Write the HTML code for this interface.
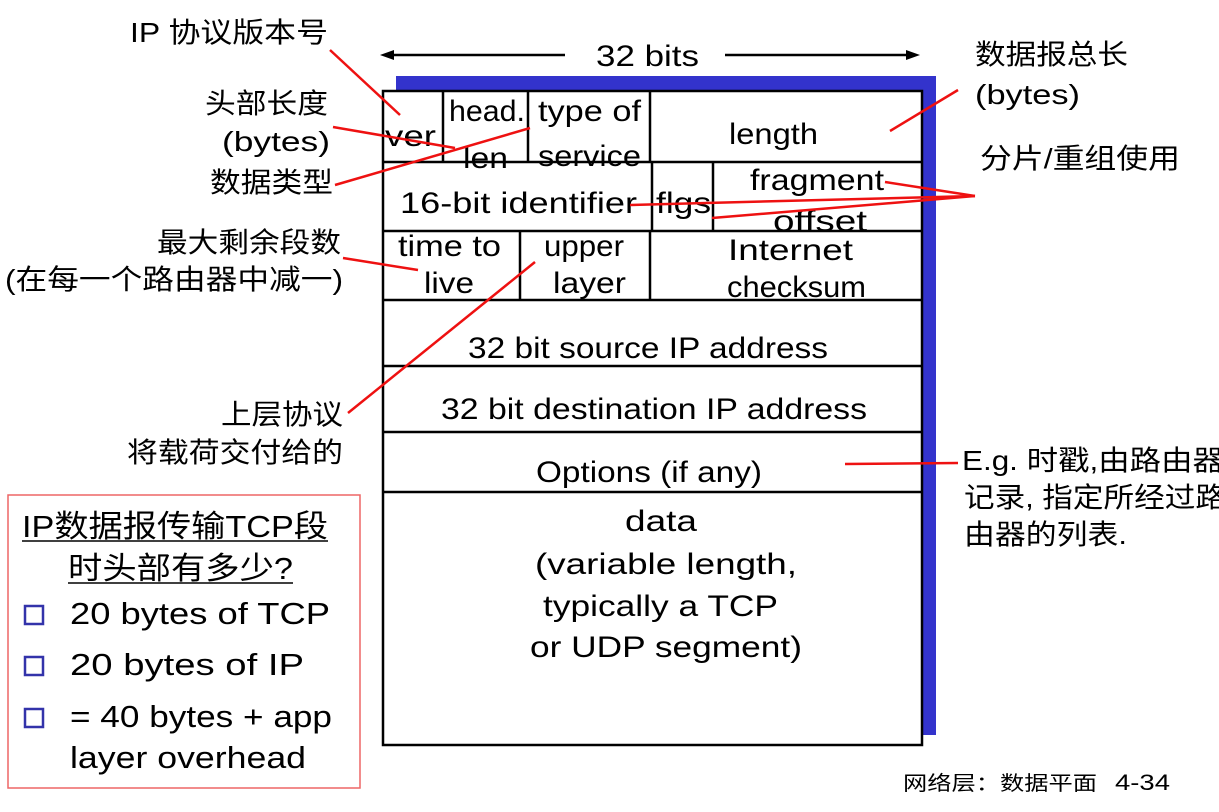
<!DOCTYPE html>
<html><head><meta charset="utf-8"><style>
body{margin:0;background:#fff;}
svg text{font-family:"Liberation Sans","Noto Sans CJK SC",sans-serif;fill:#000;}
</style></head><body>
<svg width="1219" height="807" viewBox="0 0 1219 807" xmlns="http://www.w3.org/2000/svg">
<rect x="396" y="76" width="540" height="659" fill="#3333cc"/>
<rect x="383" y="91" width="539" height="654" fill="#fff" stroke="#000" stroke-width="2.5"/>
<g stroke="#000" stroke-width="2.5">
<line x1="383" y1="162" x2="922" y2="162"/>
<line x1="383" y1="231" x2="922" y2="231"/>
<line x1="383" y1="300" x2="922" y2="300"/>
<line x1="383" y1="366" x2="922" y2="366"/>
<line x1="383" y1="432" x2="922" y2="432"/>
<line x1="383" y1="492" x2="922" y2="492"/>
<line x1="443" y1="91" x2="443" y2="162"/>
<line x1="528" y1="91" x2="528" y2="162"/>
<line x1="650" y1="91" x2="650" y2="162"/>
<line x1="652" y1="162" x2="652" y2="231"/>
<line x1="713" y1="162" x2="713" y2="231"/>
<line x1="520" y1="231" x2="520" y2="300"/>
<line x1="650" y1="231" x2="650" y2="300"/>
</g>
<g font-size="30" lengthAdjust="spacingAndGlyphs">
<text x="385" y="146" textLength="51" lengthAdjust="spacingAndGlyphs">ver</text>
<text x="449" y="121" textLength="76" lengthAdjust="spacingAndGlyphs">head.</text>
<text x="463" y="168" textLength="45" lengthAdjust="spacingAndGlyphs">len</text>
<text x="538" y="121" textLength="103" lengthAdjust="spacingAndGlyphs">type of</text>
<text x="538" y="166" textLength="103" lengthAdjust="spacingAndGlyphs">service</text>
<text x="729" y="144" textLength="89" lengthAdjust="spacingAndGlyphs">length</text>
<text x="400" y="213" textLength="237" lengthAdjust="spacingAndGlyphs">16-bit identifier</text>
<text x="656" y="213" textLength="55" lengthAdjust="spacingAndGlyphs">flgs</text>
<text x="750" y="190" textLength="134" lengthAdjust="spacingAndGlyphs">fragment</text>
<text x="773" y="231" textLength="94" lengthAdjust="spacingAndGlyphs">offset</text>
<text x="398" y="256" textLength="103" lengthAdjust="spacingAndGlyphs">time to</text>
<text x="424" y="293" textLength="50" lengthAdjust="spacingAndGlyphs">live</text>
<text x="544" y="256" textLength="80" lengthAdjust="spacingAndGlyphs">upper</text>
<text x="553" y="293" textLength="73" lengthAdjust="spacingAndGlyphs">layer</text>
<text x="728" y="260" textLength="125" lengthAdjust="spacingAndGlyphs">Internet</text>
<text x="727" y="297" textLength="139" lengthAdjust="spacingAndGlyphs">checksum</text>
<text x="468" y="358" textLength="360" lengthAdjust="spacingAndGlyphs">32 bit source IP address</text>
<text x="441" y="419" textLength="426" lengthAdjust="spacingAndGlyphs">32 bit destination IP address</text>
<text x="536" y="482" textLength="226" lengthAdjust="spacingAndGlyphs">Options (if any)</text>
<text x="625" y="531" textLength="72" lengthAdjust="spacingAndGlyphs">data</text>
<text x="535" y="574" textLength="262" lengthAdjust="spacingAndGlyphs">(variable length,</text>
<text x="543" y="616" textLength="235" lengthAdjust="spacingAndGlyphs">typically a TCP</text>
<text x="530" y="657" textLength="272" lengthAdjust="spacingAndGlyphs">or UDP segment)</text>
<text x="596" y="66" textLength="103" lengthAdjust="spacingAndGlyphs">32 bits</text>
</g>
<g stroke="#000" stroke-width="2.5">
<line x1="385" y1="55" x2="565" y2="55"/>
<line x1="725" y1="55" x2="915" y2="55"/>
</g>
<polygon points="380,55 394,50 394,60" fill="#000"/>
<polygon points="920,55 906,50 906,60" fill="#000"/>
<g font-size="28">
<text x="130" y="42" textLength="198" lengthAdjust="spacingAndGlyphs">IP 协议版本号</text>
<text x="205" y="113" textLength="123" lengthAdjust="spacingAndGlyphs">头部长度</text>
<text x="222" y="151" textLength="108" lengthAdjust="spacingAndGlyphs">(bytes)</text>
<text x="210" y="192" textLength="123" lengthAdjust="spacingAndGlyphs">数据类型</text>
<text x="975" y="64" textLength="153" lengthAdjust="spacingAndGlyphs">数据报总长</text>
<text x="975" y="104" textLength="105" lengthAdjust="spacingAndGlyphs">(bytes)</text>
<text x="980" y="168" textLength="200" lengthAdjust="spacingAndGlyphs">分片/重组使用</text>
<text x="157" y="252" textLength="184" lengthAdjust="spacingAndGlyphs">最大剩余段数</text>
<text x="5" y="289" textLength="338" lengthAdjust="spacingAndGlyphs">(在每一个路由器中减一)</text>
<text x="221" y="424" textLength="122" lengthAdjust="spacingAndGlyphs">上层协议</text>
<text x="127" y="462" textLength="216" lengthAdjust="spacingAndGlyphs">将载荷交付给的</text>
<text x="962" y="470" textLength="262" lengthAdjust="spacingAndGlyphs">E.g. 时戳,由路由器</text>
<text x="964" y="507" textLength="262" lengthAdjust="spacingAndGlyphs">记录, 指定所经过路</text>
<text x="964" y="544" textLength="163" lengthAdjust="spacingAndGlyphs">由器的列表.</text>
</g>
<g stroke="#ee1111" stroke-width="2.5">
<line x1="330" y1="50" x2="400" y2="115"/>
<line x1="333" y1="127" x2="455" y2="148"/>
<line x1="335" y1="185" x2="530" y2="128"/>
<line x1="958" y1="90" x2="890" y2="131"/>
<line x1="975" y1="196" x2="885" y2="182"/>
<line x1="975" y1="196" x2="630" y2="205"/>
<line x1="975" y1="196" x2="712" y2="218"/>
<line x1="343" y1="258" x2="418" y2="270"/>
<line x1="348" y1="413" x2="535" y2="262"/>
<line x1="958" y1="463" x2="845" y2="464"/>
</g>
<rect x="8" y="495" width="352" height="293" fill="none" stroke="#ee6666" stroke-width="1.5"/>
<g font-size="31">
<text x="22" y="537" textLength="306" lengthAdjust="spacingAndGlyphs">IP数据报传输TCP段</text>
<text x="68" y="579" textLength="225" lengthAdjust="spacingAndGlyphs">时头部有多少?</text>
<text x="70" y="624" textLength="260" lengthAdjust="spacingAndGlyphs">20 bytes of TCP</text>
<text x="70" y="675" textLength="234" lengthAdjust="spacingAndGlyphs">20 bytes of IP</text>
<text x="70" y="727" textLength="262" lengthAdjust="spacingAndGlyphs">= 40 bytes + app</text>
<text x="70" y="768" textLength="236" lengthAdjust="spacingAndGlyphs">layer overhead</text>
</g>
<line x1="22" y1="541" x2="328" y2="541" stroke="#000" stroke-width="1.5"/>
<line x1="68" y1="583" x2="293" y2="583" stroke="#000" stroke-width="1.5"/>
<g fill="#fff" stroke="#3333aa" stroke-width="2.5">
<rect x="25" y="606" width="18" height="18"/>
<rect x="25" y="657" width="18" height="18"/>
<rect x="25" y="709" width="18" height="18"/>
</g>
<text x="903" y="790" font-size="20" textLength="194" lengthAdjust="spacingAndGlyphs">网络层：数据平面</text>
<text x="1115" y="790" font-size="22" textLength="55" lengthAdjust="spacingAndGlyphs">4-34</text>
</svg>
</body></html>
